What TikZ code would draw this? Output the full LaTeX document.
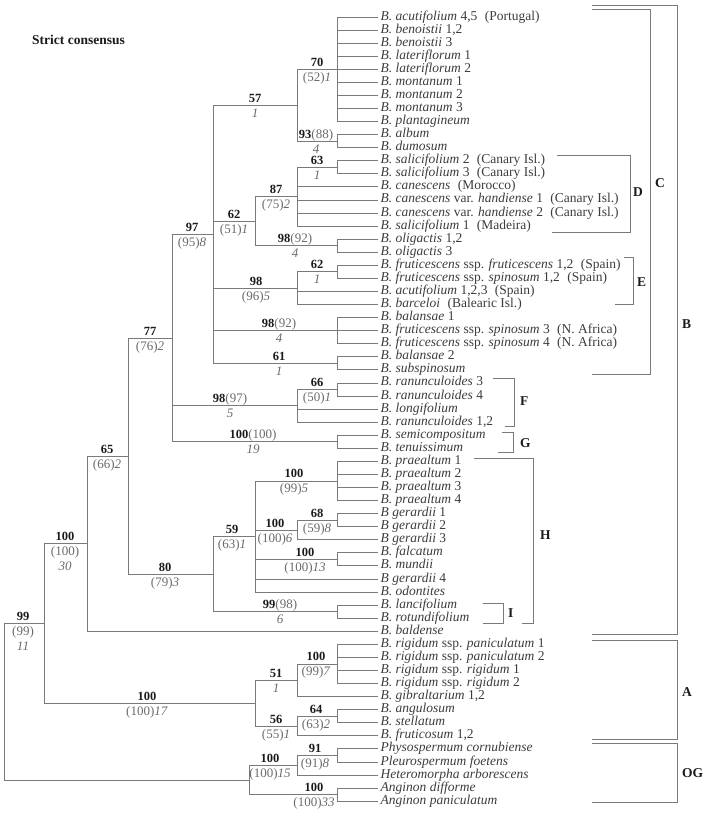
\documentclass[tikz,border=0pt]{standalone}
\usepackage{fontspec}
\setmainfont{Liberation Serif}
\definecolor{linegray}{HTML}{7A7A7A}
\definecolor{taxgray}{HTML}{3C3C3C}
\definecolor{pgray}{HTML}{6A6A6A}
\definecolor{bsblack}{HTML}{1A1A1A}
\newcommand\BSv[1]{{\fontsize{12.5}{13}\selectfont\textcolor{bsblack}{\textbf{#1}}}}
\newcommand\JKv[1]{\textcolor{pgray}{(#1)}}
\newcommand\DIv[1]{\textcolor{pgray}{\textit{#1}}}
\newcommand\sepgap{\hspace{0.55em}}
\newcommand\taxonrow[2]{\node[taxon] (L#1) at (378,{17+(#1-1)*13.07}) {#2};}
\newcommand\brlab[5]{%
  \node[slab] (#1a) at (#2,#3-3) {#4};
  \node[slab] (#1b) at (#2,#3+12) {#5};}
\begin{document}
\begin{tikzpicture}[x=1pt,y=-1pt,
  br/.style={draw=linegray,line width=0.9pt},
  bk/.style={draw=linegray,line width=0.9pt},
  taxon/.style={anchor=west,inner xsep=2.5pt,inner ysep=0pt,text height=9pt,text depth=3pt,font=\fontsize{13.5}{14}\selectfont,text=taxgray},
  slab/.style={anchor=base,inner sep=0pt,font=\fontsize{13}{13}\selectfont},
  grp/.style={anchor=west,inner sep=0pt,font=\fontsize{13.5}{14}\selectfont\bfseries,text=bsblack},
]
\useasboundingbox (0,0) rectangle (710,819);

\node[anchor=base west,inner sep=0pt,font=\fontsize{13.5}{14}\selectfont\bfseries,text=bsblack] (title) at (32,44) {Strict consensus};

% leaves
\taxonrow{1}{\textit{B. acutifolium} 4,5\sepgap (Portugal)}
\taxonrow{2}{\textit{B. benoistii} 1,2}
\taxonrow{3}{\textit{B. benoistii} 3}
\taxonrow{4}{\textit{B. lateriflorum} 1}
\taxonrow{5}{\textit{B. lateriflorum} 2}
\taxonrow{6}{\textit{B. montanum} 1}
\taxonrow{7}{\textit{B. montanum} 2}
\taxonrow{8}{\textit{B. montanum} 3}
\taxonrow{9}{\textit{B. plantagineum}}
\taxonrow{10}{\textit{B. album}}
\taxonrow{11}{\textit{B. dumosum}}
\taxonrow{12}{\textit{B. salicifolium} 2\sepgap (Canary Isl.)}
\taxonrow{13}{\textit{B. salicifolium} 3\sepgap (Canary Isl.)}
\taxonrow{14}{\textit{B. canescens}\sepgap (Morocco)}
\taxonrow{15}{\textit{B. canescens} var. \textit{handiense} 1\sepgap (Canary Isl.)}
\taxonrow{16}{\textit{B. canescens} var. \textit{handiense} 2\sepgap (Canary Isl.)}
\taxonrow{17}{\textit{B. salicifolium} 1\sepgap (Madeira)}
\taxonrow{18}{\textit{B. oligactis} 1,2}
\taxonrow{19}{\textit{B. oligactis} 3}
\taxonrow{20}{\textit{B. fruticescens} ssp. \textit{fruticescens} 1,2\sepgap (Spain)}
\taxonrow{21}{\textit{B. fruticescens} ssp. \textit{spinosum} 1,2\sepgap (Spain)}
\taxonrow{22}{\textit{B. acutifolium} 1,2,3\sepgap (Spain)}
\taxonrow{23}{\textit{B. barceloi}\sepgap (Balearic Isl.)}
\taxonrow{24}{\textit{B. balansae} 1}
\taxonrow{25}{\textit{B. fruticescens} ssp. \textit{spinosum} 3\sepgap (N. Africa)}
\taxonrow{26}{\textit{B. fruticescens} ssp. \textit{spinosum} 4\sepgap (N. Africa)}
\taxonrow{27}{\textit{B. balansae} 2}
\taxonrow{28}{\textit{B. subspinosum}}
\taxonrow{29}{\textit{B. ranunculoides} 3}
\taxonrow{30}{\textit{B. ranunculoides} 4}
\taxonrow{31}{\textit{B. longifolium}}
\taxonrow{32}{\textit{B. ranunculoides} 1,2}
\taxonrow{33}{\textit{B. semicompositum}}
\taxonrow{34}{\textit{B. tenuissimum}}
\taxonrow{35}{\textit{B. praealtum} 1}
\taxonrow{36}{\textit{B. praealtum} 2}
\taxonrow{37}{\textit{B. praealtum} 3}
\taxonrow{38}{\textit{B. praealtum} 4}
\taxonrow{39}{\textit{B gerardii} 1}
\taxonrow{40}{\textit{B gerardii} 2}
\taxonrow{41}{\textit{B gerardii} 3}
\taxonrow{42}{\textit{B. falcatum}}
\taxonrow{43}{\textit{B. mundii}}
\taxonrow{44}{\textit{B gerardii} 4}
\taxonrow{45}{\textit{B. odontites}}
\taxonrow{46}{\textit{B. lancifolium}}
\taxonrow{47}{\textit{B. rotundifolium}}
\taxonrow{48}{\textit{B. baldense}}
\taxonrow{49}{\textit{B. rigidum} ssp. \textit{paniculatum} 1}
\taxonrow{50}{\textit{B. rigidum} ssp. \textit{paniculatum} 2}
\taxonrow{51}{\textit{B. rigidum} ssp. \textit{rigidum} 1}
\taxonrow{52}{\textit{B. rigidum} ssp. \textit{rigidum} 2}
\taxonrow{53}{\textit{B. gibraltarium} 1,2}
\taxonrow{54}{\textit{B. angulosum}}
\taxonrow{55}{\textit{B. stellatum}}
\taxonrow{56}{\textit{B. fruticosum} 1,2}
\taxonrow{57}{\textit{Physospermum cornubiense}}
\taxonrow{58}{\textit{Pleurospermum foetens}}
\taxonrow{59}{\textit{Heteromorpha arborescens}}
\taxonrow{60}{\textit{Anginon difforme}}
\taxonrow{61}{\textit{Anginon paniculatum}}

% internal nodes
\coordinate (root) at (4,701.70);
\coordinate (nBup) at (44,623.43);
\coordinate (nB) at (87,543.68);
\coordinate (n65) at (128,456.07);
\coordinate (n77) at (172,338.03);
\coordinate (n97) at (213,234.29);
\coordinate (n57) at (297,105.22);
\coordinate (n70) at (337,69.28);
\coordinate (n93) at (337,141.17);
\coordinate (n62a) at (255,221.22);
\coordinate (n87) at (297,196.71);
\coordinate (n63) at (337,167.31);
\coordinate (nolig) at (337,245.72);
\coordinate (n98e) at (297,288.20);
\coordinate (n62e) at (337,271.87);
\coordinate (nbal) at (337,330.68);
\coordinate (n61) at (337,363.36);
\coordinate (n98f) at (297,405.83);
\coordinate (n66) at (337,389.50);
\coordinate (n100g) at (337,441.78);
\coordinate (n80) at (213,574.11);
\coordinate (n59) at (255,536.54);
\coordinate (npra) at (337,480.99);
\coordinate (n100six) at (297,530.00);
\coordinate (n68) at (337,520.20);
\coordinate (nfal) at (337,559.41);
\coordinate (nI) at (337,611.69);
\coordinate (nA) at (255,703.18);
\coordinate (n51) at (297,680.30);
\coordinate (nrig) at (337,663.97);
\coordinate (n56) at (297,726.05);
\coordinate (n64) at (337,716.25);
\coordinate (nOG) at (249,779.97);
\coordinate (n100h) at (297,765.26);
\coordinate (n91) at (337,755.46);
\coordinate (nang) at (337,794.67);

% branches
\foreach \p/\c in {root/nBup,root/nOG,nBup/nB,nBup/nA,nB/n65,n65/n77,n65/n80,
  n77/n97,n77/n98f,n77/n100g,n97/n57,n97/n62a,n97/n98e,n97/nbal,n97/n61,
  n57/n70,n57/n93,n62a/n87,n62a/nolig,n87/n63,n98e/n62e,n98f/n66,
  n80/n59,n80/nI,n59/npra,n59/n100six,n59/nfal,n100six/n68,
  nA/n51,nA/n56,n51/nrig,n56/n64,nOG/n100h,nOG/nang,n100h/n91}
  \draw[br] (\p) |- (\c);
\foreach \p/\c in {nB/48,n70/1,n70/2,n70/3,n70/4,n70/5,n70/6,n70/7,n70/8,n70/9,
  n93/10,n93/11,n63/12,n63/13,n87/14,n87/15,n87/16,n87/17,nolig/18,nolig/19,
  n62e/20,n62e/21,n98e/22,n98e/23,nbal/24,nbal/25,nbal/26,n61/27,n61/28,
  n66/29,n66/30,n98f/31,n98f/32,n100g/33,n100g/34,npra/35,npra/36,npra/37,npra/38,
  n68/39,n68/40,n100six/41,nfal/42,nfal/43,n59/44,n59/45,nI/46,nI/47,
  nrig/49,nrig/50,nrig/51,nrig/52,n51/53,n64/54,n64/55,n56/56,
  n91/57,n91/58,n100h/59,nang/60,nang/61}
  \draw[br] (\p) |- (L\c.west);

% branch labels
\brlab{l57}{255}{105.22}{\BSv{57}}{\DIv{1}}
\brlab{l70}{317}{69.28}{\BSv{70}}{\JKv{52}\DIv{1}}
\brlab{l93}{316}{141.17}{\BSv{93}\JKv{88}}{\DIv{4}}
\brlab{l63}{317}{167.31}{\BSv{63}}{\DIv{1}}
\brlab{l87}{276}{196.71}{\BSv{87}}{\JKv{75}\DIv{2}}
\brlab{lolig}{295}{245.72}{\BSv{98}\JKv{92}}{\DIv{4}}
\brlab{l62a}{234}{221.22}{\BSv{62}}{\JKv{51}\DIv{1}}
\brlab{l62e}{317}{271.87}{\BSv{62}}{\DIv{1}}
\brlab{l98e}{256}{288.20}{\BSv{98}}{\JKv{96}\DIv{5}}
\brlab{lbal}{279}{330.68}{\BSv{98}\JKv{92}}{\DIv{4}}
\brlab{l61}{279}{363.36}{\BSv{61}}{\DIv{1}}
\brlab{l97}{192}{234.29}{\BSv{97}}{\JKv{95}\DIv{8}}
\brlab{l66}{317}{389.50}{\BSv{66}}{\JKv{50}\DIv{1}}
\brlab{l98f}{230}{405.83}{\BSv{98}\JKv{97}}{\DIv{5}}
\brlab{l100g}{253}{441.78}{\BSv{100}\JKv{100}}{\DIv{19}}
\brlab{l77}{150}{338.03}{\BSv{77}}{\JKv{76}\DIv{2}}
\brlab{l65}{107}{456.07}{\BSv{65}}{\JKv{66}\DIv{2}}
\brlab{lB}{65}{543.68}{\BSv{100}}{\JKv{100}}
\node[slab] (lBc) at (65,543.68+27) {\DIv{30}};
\brlab{lpra}{294}{480.99}{\BSv{100}}{\JKv{99}\DIv{5}}
\brlab{l100six}{275}{530.00}{\BSv{100}}{\JKv{100}\DIv{6}}
\brlab{l68}{317}{520.20}{\BSv{68}}{\JKv{59}\DIv{8}}
\brlab{lfal}{305}{559.41}{\BSv{100}}{\JKv{100}\DIv{13}}
\brlab{l59}{232}{536.54}{\BSv{59}}{\JKv{63}\DIv{1}}
\brlab{lI}{280}{611.69}{\BSv{99}\JKv{98}}{\DIv{6}}
\brlab{l80}{165}{574.11}{\BSv{80}}{\JKv{79}\DIv{3}}
\brlab{lBup}{23}{623.43}{\BSv{99}}{\JKv{99}}
\node[slab] (lBupc) at (23,623.43+27) {\DIv{11}};
\brlab{lA}{147}{703.18}{\BSv{100}}{\JKv{100}\DIv{17}}
\brlab{l51}{276}{680.30}{\BSv{51}}{\DIv{1}}
\brlab{lrig}{316}{663.97}{\BSv{100}}{\JKv{99}\DIv{7}}
\brlab{l56}{276}{726.05}{\BSv{56}}{\JKv{55}\DIv{1}}
\brlab{l64}{316}{716.25}{\BSv{64}}{\JKv{63}\DIv{2}}
\brlab{l100h}{270}{765.26}{\BSv{100}}{\JKv{100}\DIv{15}}
\brlab{l91}{315}{755.46}{\BSv{91}}{\JKv{91}\DIv{8}}
\brlab{lang}{314}{794.67}{\BSv{100}}{\JKv{100}\DIv{33}}

% group brackets
\draw[bk] (592,5) -- (677,5) -- (677,634) -- (592,634);
\node[grp] (gB) at (682,324) {B};
\draw[bk] (592,9) -- (650,9) -- (650,374) -- (592,374);
\node[grp] (gC) at (655,183) {C};
\draw[bk] (557,155) -- (630,155) -- (630,232) -- (552,232);
\node[grp] (gD) at (633,192) {D};
\draw[bk] (624,257) -- (633,257) -- (633,304) -- (615,304);
\node[grp] (gE) at (637,282) {E};
\draw[bk] (493,378) -- (514,378) -- (514,426) -- (505,426);
\node[grp] (gF) at (520,401) {F};
\draw[bk] (502,432) -- (513,432) -- (513,452) -- (498,452);
\node[grp] (gG) at (520,443) {G};
\draw[bk] (474,458) -- (533,458) -- (533,623) -- (522,623);
\node[grp] (gH) at (540,535) {H};
\draw[bk] (483,603) -- (503,603) -- (503,623) -- (483,623);
\node[grp] (gI) at (508,613) {I};
\draw[bk] (592,640) -- (677,640) -- (677,739) -- (592,739);
\node[grp] (gA) at (682,692) {A};
\draw[bk] (592,743) -- (677,743) -- (677,802) -- (592,802);
\node[grp] (gOG) at (682,773) {OG};
\end{tikzpicture}
\end{document}
